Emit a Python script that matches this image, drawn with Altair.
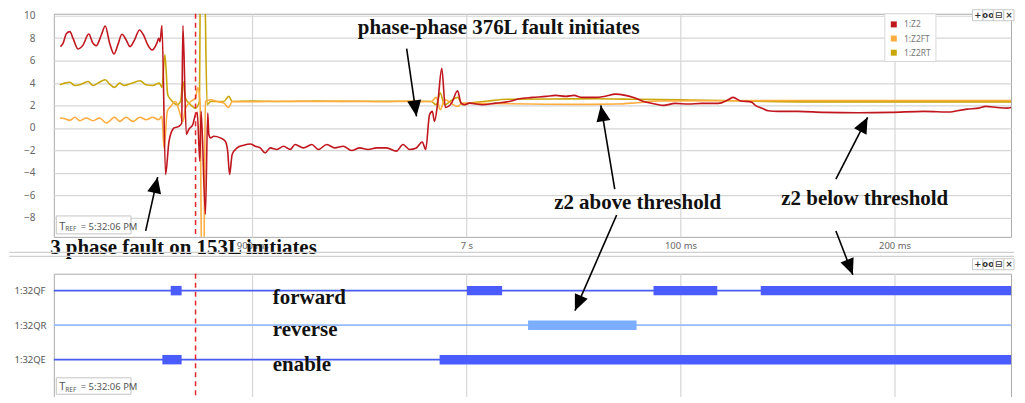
import math
import altair as alt
import pandas as pd

# ---------------- data ----------------
# time axis: ms after 5:32:06 PM
z2_t = [810.4, 811.6, 813.2, 814.8, 816.3, 818.6, 821.0, 823.6, 825.6, 827.1, 829.5, 831.3, 833.4, 835.4,
        837.2, 839.1, 841.1, 842.9, 845.0, 847.3, 849.2, 851.2, 853.2, 855.4, 856.3, 856.9, 857.8, 859.5,
        861.1, 863.4, 865.7, 867.0, 867.6, 869.2, 870.4, 872.2, 873.5, 874.3, 875.5, 876.1, 878.1, 879.2,
        879.7, 880.5, 882.0, 885.1, 887.4, 888.5, 889.4, 890.6, 892.9, 896.0, 899.1, 901.4, 903.7, 906.0,
        908.4, 911.5, 914.6, 917.7, 920.0, 923.9, 927.8, 930.9, 934.8, 938.6, 942.5, 946.4, 950.2, 954.1,
        958.0, 962.7, 967.3, 970.4, 973.5, 976.6, 979.4, 981.0, 982.8, 984.1, 985.1, 986.7, 988.5, 990.2,
        993.0, 995.9, 997.5, 999.1, 1001.4, 1007.6, 1013.8, 1020.0, 1024.7, 1030.8, 1037.1, 1041.7, 1046.4,
        1050.2, 1054.1, 1060.3, 1065.0, 1069.6, 1074.3, 1078.1, 1082.8, 1088.2, 1092.1, 1097.5, 1103.7,
        1109.9, 1117.7, 1122.3, 1124.6, 1127.8, 1133.2, 1135.0, 1138.6, 1140.9, 1145.6, 1154.9, 1167.3,
        1182.8, 1198.3, 1213.8, 1226.2, 1229.3, 1233.9, 1239.4, 1242.5, 1247.9, 1252.5, 1254.4]
z2_v = [7.24, 7.53, 8.41, 8.57, 7.97, 7.03, 7.39, 8.36, 7.53, 7.32, 8.27, 9.07, 7.53, 6.59,
        7.39, 8.33, 7.83, 7.24, 7.83, 8.72, 8.27, 7.39, 6.94, 7.53, 7.97, 7.68, 9.10, -4.13,
        -1.18, 0.0, 0.15, 0.4, 9.1, -0.58, -0.11, 0.30, 1.21, 1.4, -2.95, 1.48, -7.67, 1.33,
        -0.58, -0.88, -0.74, -0.88, -1.18, -2.06, -4.13, -2.36, -1.77, -1.53, -1.42, -1.62, -1.77, -2.21,
        -1.77, -1.91, -1.62, -1.91, -1.47, -1.77, -1.47, -1.91, -1.47, -1.77, -1.62, -2.00, -1.77, -1.91,
        -1.77, -1.77, -2.06, -1.47, -1.91, -1.77, -1.24, -1.91, 1.19, 1.48, 0.59, 2.36, 5.31, 1.83,
        2.19, 3.31, 2.21, 2.07, 2.21, 2.07, 2.21, 2.36, 2.60, 2.72, 2.81, 2.90, 2.81,
        2.90, 2.72, 2.72, 2.83, 3.01, 2.90, 2.72, 2.36, 2.13, 2.01, 2.19, 2.13,
        2.19, 2.19, 2.51, 2.72, 2.43, 2.30, 2.01, 1.72, 1.54, 1.48, 1.48, 1.39,
        1.36, 1.39, 1.48, 1.42, 1.54, 1.68, 1.77, 1.92, 1.83, 1.77, 1.83]

z2ft_t = [810.1, 812.4, 814.8, 817.1, 819.4, 822.5, 825.6, 828.7, 831.8, 835.7, 838.0, 841.1, 844.2,
          847.6, 850.4, 853.5, 856.3, 857.8, 858.8, 860.3, 861.9, 864.2, 865.7, 867.6, 868.8, 871.2,
          873.5, 874.5, 875.6, 876.4, 877.3, 878.1, 880.5, 883.6, 886.7, 889.0, 890.6, 900.0, 915.0,
          930.0, 945.0, 960.0, 975.0, 983.6, 985.9, 987.8, 989.8, 995.9, 998.3, 1001.4, 1010.0, 1030.0,
          1050.0, 1070.0, 1080.0, 1090.0, 1120.0, 1160.0, 1254.4]
z2ft_v = [0.89, 0.83, 0.68, 0.95, 0.65, 0.89, 0.65, 0.89, 0.44, 0.95, 0.59, 0.95, 0.59,
          0.95, 0.74, 0.95, 0.74, 1.04, -1.77, 1.48, 1.92, 2.36, 1.63, 0.59, 1.77, 2.36,
          2.66, 3.6, 2.36, -13.0, -13.0, 2.36, 2.51, 2.36, 2.21, 1.83, 2.36, 2.33, 2.38,
          2.35, 2.38, 2.34, 2.37, 2.36, 2.72, 1.63, 2.51, 1.92, 2.21, 2.21, 2.18, 2.13,
          2.10, 2.13, 2.25, 2.40, 2.42, 2.45, 2.45]

z2rt_t = [810.1, 812.4, 814.8, 817.1, 819.4, 823.3, 825.6, 827.9, 831.3, 833.4, 835.7, 838.0, 840.3,
          843.3, 847.6, 850.4, 853.5, 856.6, 857.8, 859.2, 860.5, 862.0, 865.0, 866.5, 867.6, 868.8,
          871.2, 873.5, 875.3, 875.8, 877.6, 878.9, 880.5, 883.6, 886.7, 889.0, 890.6, 900.0, 915.0,
          930.0, 945.0, 960.0, 975.0, 983.6, 985.9, 987.8, 989.8, 993.0, 995.9, 998.3, 1001.4, 1010.0,
          1020.0, 1040.0, 1060.0, 1080.0, 1100.0, 1120.0, 1140.0, 1160.0, 1200.0, 1254.4]
z2rt_v = [3.84, 3.99, 4.07, 3.78, 3.84, 4.14, 3.78, 3.99, 4.29, 3.90, 3.61, 3.99, 3.78,
          3.96, 4.20, 3.84, 3.78, 3.99, 3.61, 6.50, 2.96, 2.52, 2.07, 2.36, 4.14, 2.66,
          2.07, 1.77, 2.36, 14.0, 14.0, 2.07, 2.36, 2.36, 2.36, 2.81, 2.36, 2.40, 2.36,
          2.40, 2.37, 2.38, 2.38, 2.36, 2.07, 3.10, 2.07, 2.45, 2.72, 2.07, 2.21, 2.40,
          2.55, 2.58, 2.60, 2.55, 2.50, 2.45, 2.36, 2.32, 2.32, 2.32]

series_names = ["1:Z2", "1:Z2FT", "1:Z2RT"]
series_colors = ["#c0161e", "#ffad3f", "#c9a70b"]

x_tick_values = [900, 1000, 1100, 1200]
x_tick_labels = ["900 ms", "7 s", "100 ms", "200 ms"]
y_tick_values = [-8, -6, -4, -2, 0, 2, 4, 6, 8, 10]
trigger_t = [873.5]

# digital channels
dig_names = ["1:32QF", "1:32QR", "1:32QE"]
dig_rows = [3, 2, 1]
dig_line_colors = ["#4a5cf2", "#96bbff", "#4a5cf2"]
dig_bar_colors = ["#4b5cff", "#7caeff", "#4b5cff"]
qf_start = [861.9, 1000.3, 1087.4, 1137.5]
qf_end = [867.0, 1016.7, 1117.2, 1254.4]
qr_start = [1028.8]
qr_end = [1079.5]
qe_start = [858.0, 987.5]
qe_end = [867.0, 1254.4]

# annotations (data coordinates)
top_notes = ["phase-phase 376L fault initiates", "3 phase fault on 153L initiates",
             "z2 above threshold", "z2 below threshold"]
top_note_t = [949.3, 805.6, 1041.0, 1147.1]
top_note_z = [8.39, -11.19, -7.2, -6.85]
bot_notes = ["forward", "reverse", "enable"]
bot_note_t = [909.6, 909.6, 909.6]
bot_note_row = [2.616, 1.70, 0.671]

top_arrow_t0 = [850.2, 972.1, 1069.3, 1172.6]
top_arrow_z0 = [-9.15, 7.06, -5.43, -4.54]
top_arrow_t1 = [855.8, 976.7, 1062.8, 1187.4]
top_arrow_z1 = [-4.37, 1.04, 2.01, 0.95]
bot_arrow_t0 = [1070.2, 1172.6]
bot_arrow_r0 = [5.19, 4.73]
bot_arrow_t1 = [1050.7, 1180.5]
bot_arrow_r1 = [2.42, 3.46]

# ---------------- layout ----------------
W, H_TOP, H_BOT = 961, 224, 127
X_DOMAIN = [807.3, 1254.4]
Z_DOMAIN = [-9.68, 10.16]
ROW_DOMAIN = [-0.175, 3.49]
KX = W / (X_DOMAIN[1] - X_DOMAIN[0])
KZ = H_TOP / (Z_DOMAIN[1] - Z_DOMAIN[0])
KR = H_BOT / (ROW_DOMAIN[1] - ROW_DOMAIN[0])
HEAD = "M0,0L-0.44,1L0.44,1Z"
LABEL_FONT = "Noto Sans"
NOTE_FONT = "Liberation Serif"


def heading(dx, dy):
    return math.degrees(math.atan2(dx, -dy)) % 360


def ternary(vals, labels):
    expr = "''"
    for v, l in reversed(list(zip(vals, labels))):
        expr = f"datum.value == {v} ? '{l}' : {expr}"
    return expr


xscale = alt.Scale(domain=X_DOMAIN, nice=False, zero=False)
zscale = alt.Scale(domain=Z_DOMAIN, nice=False, zero=False)
rscale = alt.Scale(domain=ROW_DOMAIN, nice=False, zero=False)

top_xaxis = alt.Axis(values=x_tick_values, labelExpr=ternary(x_tick_values, x_tick_labels), grid=True,
                     gridColor="#d6d6d6", gridWidth=1.2, ticks=False, domain=False, labelFontSize=9.5,
                     labelColor="#666", labelFont=LABEL_FONT, labelPadding=4, title=None)
top_yaxis = alt.Axis(values=y_tick_values, grid=True, gridColor="#d6d6d6", gridWidth=1.2, ticks=False,
                     domain=False, labelFontSize=10, labelColor="#666", labelFont=LABEL_FONT,
                     labelPadding=19, title=None)
bot_xaxis = alt.Axis(values=x_tick_values, grid=True, gridColor="#d6d6d6", gridWidth=1.2, ticks=False,
                     domain=False, labels=False, title=None)
bot_yaxis = alt.Axis(values=dig_rows, labelExpr=ternary(dig_rows, dig_names), grid=False, ticks=False,
                     domain=False, labelFontSize=9.5, labelColor="#555", labelFont=LABEL_FONT,
                     labelAlign="left", labelPadding=40, title=None)


def TX(f):
    return alt.X(f"{f}:Q", scale=xscale, axis=top_xaxis)


def TY(f):
    return alt.Y(f"{f}:Q", scale=zscale, axis=top_yaxis)


def BX(f):
    return alt.X(f"{f}:Q", scale=xscale, axis=bot_xaxis)


def BY(f):
    return alt.Y(f"{f}:Q", scale=rscale, axis=bot_yaxis)


one = pd.DataFrame({"k": [0]})


def rect(x, x2, y, y2, **kw):
    return alt.Chart(one).mark_rect(**kw).encode(x=alt.value(x), x2=alt.value(x2), y=alt.value(y), y2=alt.value(y2))


def txt(x, y, s, **kw):
    return alt.Chart(one).mark_text(align="left", baseline="alphabetic", text=s, **kw).encode(
        x=alt.value(x), y=alt.value(y))


def hline(x, x2, y, **kw):
    return alt.Chart(one).mark_rule(**kw).encode(x=alt.value(x), x2=alt.value(x2), y=alt.value(y))


def tref(top, h=18):
    return [
        rect(2.5, 77.5, top, top + h, fill="white", stroke="#c4c4c4", strokeWidth=1),
        txt(5.5, top + h - 4, "T", fontSize=11, color="#555", font=LABEL_FONT),
        txt(11.5, top + h - 2.5, "REF", fontSize=6.5, color="#555", font=LABEL_FONT),
        txt(27, top + h - 4, "= 5:32:06 PM", fontSize=9.5, color="#555", font=LABEL_FONT),
    ]


def toolbar(top):
    glyphs = ["+", "oo", "\u229f", "\u00d7"]
    xs = [922.3, 932.8, 943.3, 953.8, 964.0]
    out = []
    for i, g in enumerate(glyphs):
        out.append(rect(xs[i], xs[i + 1], top, top + 11, fill="white", stroke="#c8c8c8", strokeWidth=1))
        out.append(alt.Chart(one).mark_text(align="center", baseline="middle", text=g, fontSize=8.5,
                                            fontWeight="bold", color="#333", font="DejaVu Sans").encode(
            x=alt.value((xs[i] + xs[i + 1]) / 2), y=alt.value(top + 5.5)))
    return out


# ---------------- top panel ----------------
frames = []
order = [2, 1, 0]
all_t = [z2_t, z2ft_t, z2rt_t]
all_v = [z2_v, z2ft_v, z2rt_v]
for i in order:
    frames.append(pd.DataFrame({"series": series_names[i], "t": all_t[i], "z": all_v[i]}))
df_lines = pd.concat(frames, ignore_index=True)

lines = alt.Chart(df_lines).mark_line(clip=True, strokeWidth=1.6, interpolate="monotone").encode(
    x=TX("t"), y=TY("z"),
    color=alt.Color("series:N", scale=alt.Scale(domain=series_names, range=series_colors), legend=None),
    detail="series:N",
)

df_trig = pd.DataFrame({"t": trigger_t})
trig_top = alt.Chart(df_trig).mark_rule(color="#e3262b", strokeDash=[5, 4], strokeWidth=1.5).encode(x=TX("t"))

df_tnotes = pd.DataFrame({"label": top_notes, "t": top_note_t, "z": top_note_z})
tnotes = alt.Chart(df_tnotes).mark_text(align="left", baseline="alphabetic", font=NOTE_FONT,
                                        fontWeight="bold", fontSize=21, color="#111").encode(
    x=TX("t"), y=TY("z"), text="label:N")

df_tarrows = pd.DataFrame({"t0": top_arrow_t0, "z0": top_arrow_z0, "t1": top_arrow_t1, "z1": top_arrow_z1})
df_tarrows["ang"] = [heading((a1 - a0) * KX, -(b1 - b0) * KZ)
                     for a0, b0, a1, b1 in zip(top_arrow_t0, top_arrow_z0, top_arrow_t1, top_arrow_z1)]
tshafts = alt.Chart(df_tarrows).mark_rule(color="black", strokeWidth=1.6).encode(
    x=TX("t0"), y=TY("z0"), x2="t1:Q", y2="z1:Q")
theads = alt.Chart(df_tarrows).mark_point(shape=HEAD, size=1024, filled=True, color="black",
                                          opacity=1, strokeWidth=0).encode(
    x=TX("t1"), y=TY("z1"), angle=alt.Angle("ang:Q", scale=None))

legend_parts = [rect(834.3, 885.6, 0, 48, fill="white", stroke="#d8d8d8", strokeWidth=1)]
for i, n in enumerate(series_names):
    yy = 10.7 + 14.2 * i
    legend_parts.append(rect(840.3, 846.3, yy - 3, yy + 3, fill=series_colors[i]))
    legend_parts.append(txt(853.5, yy + 3, n, fontSize=8.5, color="#777", font=LABEL_FONT))

top = alt.layer(lines, trig_top, *tref(203), *legend_parts, tshafts, theads, tnotes,
                *toolbar(-4)).properties(width=W, height=H_TOP)

# ---------------- bottom panel ----------------
df_base = pd.DataFrame({"row": dig_rows, "col": dig_line_colors,
                        "t0": [X_DOMAIN[0]] * 3, "t1": [X_DOMAIN[1]] * 3})
base_lines = alt.Chart(df_base).mark_rule(strokeWidth=1.6).encode(
    x=BX("t0"), x2="t1:Q", y=BY("row"), color=alt.Color("col:N", scale=None))

blocks = []
for r, c, ss, ee in zip(dig_rows, dig_bar_colors, [qf_start, qr_start, qe_start], [qf_end, qr_end, qe_end]):
    for s, e in zip(ss, ee):
        blocks.append({"row": r, "col": c, "t0": s, "t1": e})
df_blocks = pd.DataFrame(blocks)
bars = alt.Chart(df_blocks).mark_rule(strokeWidth=9.5, strokeCap="butt").encode(
    x=BX("t0"), x2="t1:Q", y=BY("row"), color=alt.Color("col:N", scale=None))

trig_bot = alt.Chart(df_trig).mark_rule(color="#e3262b", strokeDash=[5, 4], strokeWidth=1.5).encode(x=BX("t"))

df_bnotes = pd.DataFrame({"label": bot_notes, "t": bot_note_t, "row": bot_note_row})
bnotes = alt.Chart(df_bnotes).mark_text(align="left", baseline="alphabetic", font=NOTE_FONT,
                                        fontWeight="bold", fontSize=21, color="#111").encode(
    x=BX("t"), y=BY("row"), text="label:N")

df_barrows = pd.DataFrame({"t0": bot_arrow_t0, "r0": bot_arrow_r0, "t1": bot_arrow_t1, "r1": bot_arrow_r1})
df_barrows["ang"] = [heading((a1 - a0) * KX, -(b1 - b0) * KR)
                     for a0, b0, a1, b1 in zip(bot_arrow_t0, bot_arrow_r0, bot_arrow_t1, bot_arrow_r1)]
bshafts = alt.Chart(df_barrows).mark_rule(color="black", strokeWidth=1.6).encode(
    x=BX("t0"), y=BY("r0"), x2="t1:Q", y2="r1:Q")
bheads = alt.Chart(df_barrows).mark_point(shape=HEAD, size=1024, filled=True, color="black",
                                          opacity=1, strokeWidth=0).encode(
    x=BX("t1"), y=BY("r1"), angle=alt.Angle("ang:Q", scale=None))

separators = [hline(-44.7, 964.0, -21.5, color="#cfcfcf", strokeWidth=1.2),
              hline(-44.7, 964.0, -17.5, color="#cfcfcf", strokeWidth=1.2)]

bottom = alt.layer(base_lines, bars, trig_bot, *tref(104.5, 16.5), *separators, *toolbar(-15),
                   bnotes, bshafts, bheads).properties(width=W, height=H_BOT)

chart = alt.vconcat(top, bottom, spacing=37, bounds="flush").resolve_scale(
    y="independent", color="independent").properties(
    padding={"left": 0, "top": 0, "right": 0, "bottom": -6}).configure_view(
    stroke="#a9a9a9", strokeWidth=1)

chart.save("out.html", embed_options={"renderer": "svg", "actions": False})
